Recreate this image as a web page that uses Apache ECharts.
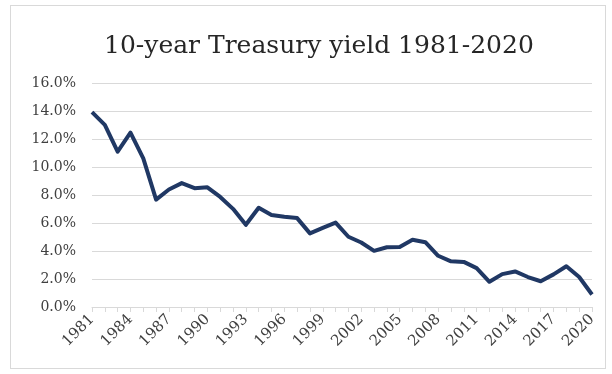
<!DOCTYPE html>
<html>
<head>
<meta charset="utf-8">
<script src="https://cdn.jsdelivr.net/npm/echarts@6/dist/echarts.min.js"></script>
<style>
  html, body { margin: 0; padding: 0; background: #fff; }
  #wrap { position: absolute; left: 10px; top: 5px; width: 594px; height: 362px; border: 1px solid #d9d9d9; }
  #container { position: absolute; left: 0; top: 0; width: 612px; height: 374px; }
</style>
</head>
<body>
<div id="wrap"></div>
<div id="container"></div>
<script>
// years on the x axis
let years = [];
for (let y = 1981; y <= 2020; y++) years.push(String(y));

// annual 10-year treasury yield, percent
let yields = [
    13.92, 13.01, 11.10, 12.46, 10.62, 7.67, 8.39, 8.85, 8.49, 8.55,
    7.86, 7.01, 5.87, 7.09, 6.57, 6.44, 6.35, 5.26, 5.65, 6.03,
    5.02, 4.61, 4.01, 4.27, 4.29, 4.80, 4.63, 3.66, 3.26, 3.22,
    2.78, 1.80, 2.35, 2.54, 2.14, 1.84, 2.33, 2.91, 2.14, 0.89
];

let titleText = '10-year Treasury yield 1981-2020';

let myChart = echarts.init(document.getElementById('container'));
let option = {
    animation: false,
    title: {
        text: titleText,
        left: 99,
        top: 29,
        textStyle: {
            fontFamily: 'DejaVu Serif',
            fontSize: 25,
            fontWeight: 'normal',
            color: '#262626'
        }
    },
    grid: {
        left: 92,
        right: 20,
        top: 83,
        bottom: 67
    },
    xAxis: {
        type: 'category',
        data: years,
        boundaryGap: false,
        axisLine: { lineStyle: { color: '#d9d9d9', width: 1 } },
        axisTick: { show: true, interval: 0, length: 5, lineStyle: { color: '#d9d9d9' } },
        axisLabel: {
            interval: 2,
            rotate: 45,
            fontFamily: 'DejaVu Serif',
            fontSize: 15,
            color: '#404040',
            margin: 10
        },
        splitLine: { show: false }
    },
    yAxis: {
        type: 'value',
        min: 0,
        max: 16,
        interval: 2,
        axisLine: { show: false },
        axisTick: { show: false },
        axisLabel: {
            formatter: function (v) { return v.toFixed(1) + '%'; },
            fontFamily: 'DejaVu Serif',
            fontSize: 14,
            color: '#404040',
            margin: 16
        },
        splitLine: { lineStyle: { color: '#d9d9d9', width: 1 } }
    },
    series: [{
        type: 'line',
        data: yields,
        symbol: 'none',
        lineStyle: { color: '#203864', width: 4, join: 'round' }
    }]
};
myChart.setOption(option);
</script>
</body>
</html>
